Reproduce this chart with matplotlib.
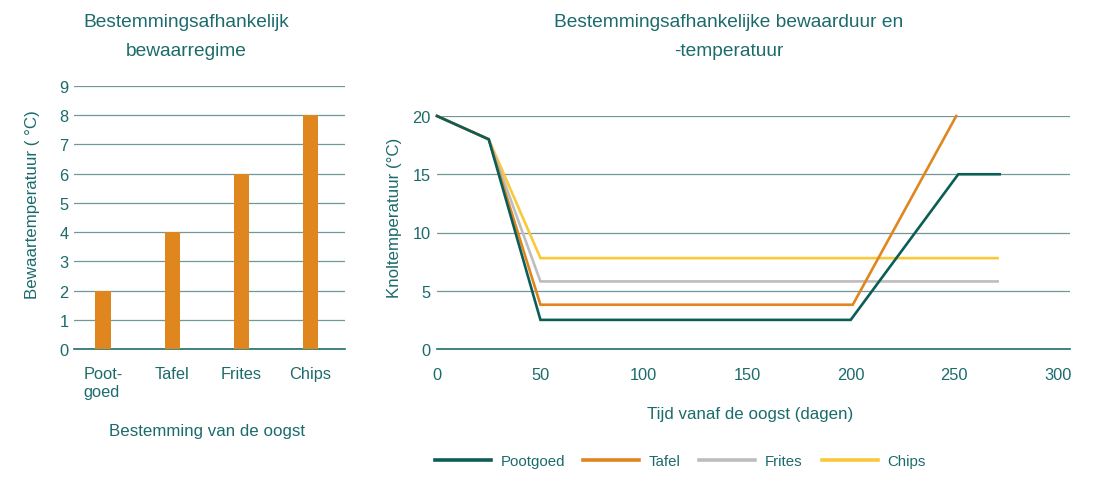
import matplotlib
matplotlib.use("Agg")
import matplotlib.pyplot as plt
from matplotlib.lines import Line2D

plt.rcParams['font.family'] = ['Liberation Sans', 'DejaVu Sans']

TEXT = '#1c6b6c'
GRID = '#6f9896'
AXIS = '#1f6e6e'

# Left chart data
categories = ['Poot-\ngoed', 'Tafel', 'Frites', 'Chips']
storage_temp = [2, 4, 6, 8]

# Right chart data
series_names = ['Pootgoed', 'Tafel', 'Frites', 'Chips']
series_colors = ['#0b5e57', '#e0861f', '#bdbdbd', '#f9c93a']
days_pootgoed = [0, 25, 50, 200, 252, 272]
temp_pootgoed = [20, 18, 2.5, 2.5, 15, 15]
days_tafel = [0, 25, 50, 201, 251]
temp_tafel = [20, 18, 3.8, 3.8, 20]
days_frites = [0, 25, 50, 271]
temp_frites = [20, 18, 5.8, 5.8]
days_chips = [0, 25, 50, 271]
temp_chips = [20, 18, 7.8, 7.8]

W, H = 1094, 485
fig = plt.figure(figsize=(W / 100, H / 100), dpi=100)

TICK_FS = 11.8
LABEL_FS = 12.2
TITLE_FS = 13.8

# ---- Left bar chart ----
ax1 = fig.add_axes([74/W, 1-350/H, (345-74)/W, (350-87)/H])
x = list(range(len(categories)))
ax1.bar(x, storage_temp, width=0.22, color='#e0861f', zorder=3)
ax1.set_xlim(-0.42, 3.5)
ax1.set_ylim(0, 9)
ax1.set_yticks(range(0, 10))
ax1.set_xticks(x)
ax1.set_xticklabels(categories, ha='center', va='top', linespacing=1.25)
for lab in ax1.get_xticklabels():
    lab.set_multialignment('left')
ax1.grid(axis='y', color=GRID, linewidth=0.9, zorder=0)
for s in ['top', 'right', 'left']:
    ax1.spines[s].set_visible(False)
ax1.spines['bottom'].set_color(AXIS)
ax1.spines['bottom'].set_linewidth(1.2)
ax1.tick_params(axis='both', length=0, colors=TEXT, labelsize=TICK_FS)
ax1.tick_params(axis='x', pad=12)
ax1.tick_params(axis='y', pad=4)
ax1.set_ylabel('Bewaartemperatuur ( °C)', color=TEXT, fontsize=LABEL_FS)
ax1.yaxis.set_label_coords((33-74)/271, (350-205)/263)
ax1.set_xlabel('Bestemming van de oogst', color=TEXT, fontsize=LABEL_FS)
ax1.xaxis.set_label_coords((207-74)/271, (350-432)/263)
ax1.xaxis.label.set_va('center')
ax1.yaxis.label.set_va('center')
fig.text(186/W, 1-37/H, 'Bestemmingsafhankelijk\nbewaarregime', ha='center', va='center',
         color=TEXT, fontsize=TITLE_FS, linespacing=1.85)

# ---- Right line chart ----
ax2 = fig.add_axes([437/W, 1-350/H, (1070-437)/W, (350-117)/H])
series = [(days_pootgoed, temp_pootgoed), (days_tafel, temp_tafel),
          (days_frites, temp_frites), (days_chips, temp_chips)]
handles = {}
for i in [3, 2, 1, 0]:
    d, t = series[i]
    ln, = ax2.plot(d, t, color=series_colors[i], linewidth=1.9, clip_on=False,
                   solid_joinstyle='miter', zorder=3 + (3 - i))
    handles[i] = ln
ax2.set_xlim(0, 306)
ax2.set_ylim(0, 20)
ax2.set_xticks([0, 50, 100, 150, 200, 250, 300])
ax2.set_yticks([0, 5, 10, 15, 20])
ax2.grid(axis='y', color=GRID, linewidth=0.9, zorder=0)
for s in ['top', 'right', 'left']:
    ax2.spines[s].set_visible(False)
ax2.spines['bottom'].set_color(AXIS)
ax2.spines['bottom'].set_linewidth(1.2)
ax2.tick_params(axis='both', length=0, colors=TEXT, labelsize=TICK_FS)
ax2.tick_params(axis='x', pad=13)
ax2.tick_params(axis='y', pad=4.5)
ax2.set_ylabel('Knoltemperatuur (°C)', color=TEXT, fontsize=LABEL_FS)
ax2.yaxis.set_label_coords((395-437)/633, (350-218)/233)
ax2.set_xlabel('Tijd vanaf de oogst (dagen)', color=TEXT, fontsize=LABEL_FS)
ax2.xaxis.set_label_coords((750-437)/633, (350-415)/233)
ax2.xaxis.label.set_va('center')
ax2.yaxis.label.set_va('center')
fig.text(729/W, 1-37/H, 'Bestemmingsafhankelijke bewaarduur en\n-temperatuur', ha='center', va='center',
         color=TEXT, fontsize=TITLE_FS, linespacing=1.85)

# ---- Legend: one entry per position ----
legend_x = [435, 583, 699, 822]
for i, lx in enumerate(legend_x):
    h = Line2D([], [], color=series_colors[i], linewidth=2.6)
    leg = fig.legend([h], [series_names[i]], loc='center left',
                     bbox_to_anchor=(lx/W, 1-462/H), frameon=False,
                     fontsize=10.8, handlelength=3.75, handletextpad=0.6,
                     borderaxespad=0, borderpad=0)
    for t in leg.get_texts():
        t.set_color(TEXT)

fig.savefig('out.png', dpi=100)
